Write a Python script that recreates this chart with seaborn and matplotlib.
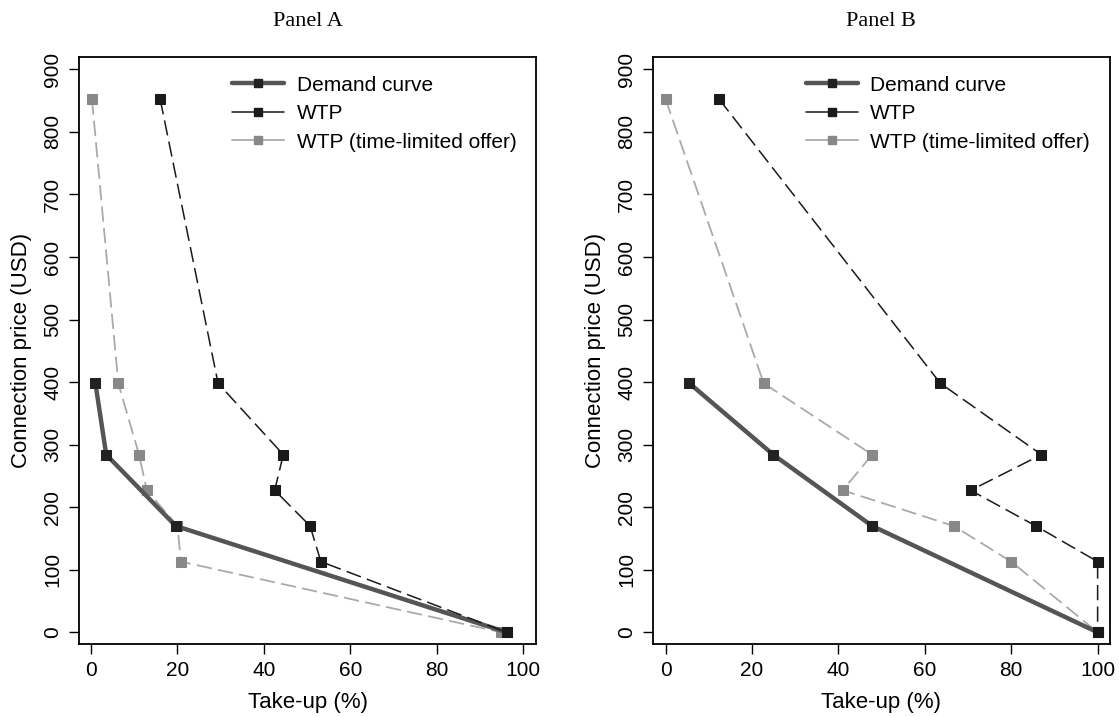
import matplotlib
matplotlib.use("Agg")
import matplotlib.pyplot as plt
import seaborn as sns
import pandas as pd
from matplotlib.lines import Line2D

# ---- data ----
prices = [852, 398, 284, 227, 170, 113, 0]
demand_prices = [398, 284, 170, 0]

a_demand = [1.0, 3.5, 19.6, 96.2]
a_wtp = [16.0, 29.4, 44.5, 42.5, 50.7, 53.2, 96.2]
a_tlo = [0.2, 6.3, 11.1, 12.9, 20.0, 20.8, 95.0]

b_demand = [5.5, 24.9, 47.8, 100.0]
b_wtp = [12.4, 63.6, 87.0, 70.6, 85.7, 100.0, 100.0]
b_tlo = [0.0, 22.7, 47.8, 41.0, 66.7, 80.0, 100.0]

panel_titles = ["Panel A", "Panel B"]
series_names = ["Demand curve", "WTP", "WTP (time-limited offer)"]
x_ticks = [0, 20, 40, 60, 80, 100]
y_ticks = [0, 100, 200, 300, 400, 500, 600, 700, 800, 900]

sns.set_theme(style="white")
plt.rcParams['font.family'] = ['Liberation Sans', 'DejaVu Sans']
plt.rcParams['lines.scale_dashes'] = False
plt.rcParams['text.color'] = 'black'

fig = plt.figure(figsize=(11.19, 7.17), dpi=100)
axA = fig.add_axes([0.0706, 0.1018, 0.4084, 0.8187])
axB = fig.add_axes([0.5833, 0.1018, 0.4084, 0.8187])

c_dem_line = "#555555"
c_dem_mark = "#222222"
c_wtp = "#1a1a1a"
c_tlo_line = "#aaaaaa"
c_tlo_mark = "#888888"
dash = (11, 4.5)

panels = [
    (axA, a_demand, a_wtp, a_tlo, (-2.8, 103.0)),
    (axB, b_demand, b_wtp, b_tlo, (-3.0, 102.8)),
]

for i, (ax, dem, wtp, tlo, xl) in enumerate(panels):
    df_tlo = pd.DataFrame({"x": tlo, "y": prices})
    df_wtp = pd.DataFrame({"x": wtp, "y": prices})
    df_dem = pd.DataFrame({"x": dem, "y": demand_prices})

    sns.lineplot(data=df_tlo, x="x", y="y", sort=False, estimator=None, ax=ax,
                 color=c_tlo_line, lw=1.3, marker="s", markersize=6.5,
                 markerfacecolor=c_tlo_mark, markeredgecolor=c_tlo_mark, zorder=2)
    ax.lines[-1].set_dashes(dash)
    sns.lineplot(data=df_dem, x="x", y="y", sort=False, estimator=None, ax=ax,
                 color=c_dem_line, lw=3.2, marker="s", markersize=7,
                 markerfacecolor=c_dem_mark, markeredgecolor=c_dem_mark, zorder=3)
    sns.lineplot(data=df_wtp, x="x", y="y", sort=False, estimator=None, ax=ax,
                 color=c_wtp, lw=1.1, marker="s", markersize=6.5,
                 markerfacecolor=c_wtp, markeredgecolor=c_wtp, zorder=4)
    ax.lines[-1].set_dashes(dash)

    ax.set_xlim(*xl)
    ax.set_ylim(-18.7, 919.7)
    ax.set_xticks(x_ticks)
    ax.set_yticks(y_ticks)
    ax.tick_params(axis="both", which="both", direction="out", length=7, width=1,
                   color="black", labelsize=15, labelcolor="black",
                   left=True, bottom=True, pad=5)
    for lab in ax.get_yticklabels():
        lab.set_rotation(90)
        lab.set_va("center")
    for s in ax.spines.values():
        s.set_color("black")
        s.set_linewidth(1.3)
        s.set_visible(True)
    ax.set_xlabel("Take-up (%)", fontsize=16, color="black", labelpad=9)
    ax.set_ylabel("Connection price (USD)", fontsize=16, color="black", labelpad=8)
    ax.set_title(panel_titles[i], fontsize=16, family=["Liberation Serif"],
                 color="black", pad=22)

    handles = [
        Line2D([], [], color=c_dem_line, lw=3.2, marker="s", markersize=5.5,
               markerfacecolor=c_dem_mark, markeredgecolor=c_dem_mark),
        Line2D([], [], color=c_wtp, lw=1.1, marker="s", markersize=5.5,
               markerfacecolor=c_wtp, markeredgecolor=c_wtp),
        Line2D([], [], color=c_tlo_line, lw=1.3, marker="s", markersize=5.5,
               markerfacecolor=c_tlo_mark, markeredgecolor=c_tlo_mark),
    ]
    ax.legend(handles, series_names, loc="upper left", bbox_to_anchor=(0.335, 0.968),
              frameon=False, fontsize=15, handlelength=2.5, handletextpad=0.6,
              labelspacing=0.45, borderaxespad=0, borderpad=0, labelcolor="black")

fig.savefig("out.png", dpi=100)
